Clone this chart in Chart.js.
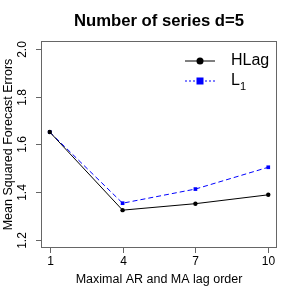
<!DOCTYPE html>
<html><head><meta charset="utf-8">
<script src="https://cdn.jsdelivr.net/npm/chart.js@4/dist/chart.umd.min.js"></script>
<style>html,body{margin:0;padding:0;background:#fff;}#wrap{width:299px;height:299px;}</style>
</head><body><div id="wrap"><canvas id="c" width="299" height="299"></canvas></div>
<script>
const lagOrders = [1, 4, 7, 10];
const hlagValues = [1.652, 1.326, 1.353, 1.390];
const l1Values = [1.652, 1.355, 1.414, 1.505];
const yTicks = [1.2, 1.4, 1.6, 1.8, 2.0];
const xTicks = [1, 4, 7, 10];
const titleText = "Number of series d=5";
const xTitle = "Maximal AR and MA lag order";
const yTitle = "Mean Squared Forecast Errors";
const seriesNames = ["HLag", "L"];

const FONT = '"Liberation Sans", Arial, sans-serif';

const decor = {
  id: 'decor',
  afterDatasetsDraw(chart) {
    const ctx = chart.ctx, a = chart.chartArea;
    const xs = chart.scales.x, ys = chart.scales.y;
    ctx.save();
    ctx.strokeStyle = '#666'; ctx.lineWidth = 1;
    ctx.strokeRect(a.left + 0.5, a.top + 0.5, a.right - a.left - 1, a.bottom - a.top - 1);
    ctx.fillStyle = '#000';
    ctx.font = '12px ' + FONT;
    yTicks.forEach(v => {
      const y = Math.round(ys.getPixelForValue(v)) + 0.5;
      ctx.beginPath(); ctx.moveTo(a.left - 5, y); ctx.lineTo(a.left, y); ctx.stroke();
      ctx.save(); ctx.translate(29, y); ctx.rotate(-Math.PI / 2);
      ctx.textAlign = 'center'; ctx.textBaseline = 'bottom';
      ctx.fillText(v.toFixed(1), 0, 0); ctx.restore();
    });
    xTicks.forEach(v => {
      const x = Math.round(xs.getPixelForValue(v)) + 0.5;
      ctx.beginPath(); ctx.moveTo(x, a.bottom); ctx.lineTo(x, a.bottom + 5); ctx.stroke();
      ctx.textAlign = 'center'; ctx.textBaseline = 'middle';
      ctx.fillText(String(v), x, 262);
    });
    ctx.font = '12.5px ' + FONT;
    ctx.textAlign = 'center'; ctx.textBaseline = 'middle';
    ctx.fillText(xTitle, (a.left + a.right) / 2, 280);
    ctx.save(); ctx.translate(9, (a.top + a.bottom) / 2); ctx.rotate(-Math.PI / 2);
    ctx.fillText(yTitle, 0, 0); ctx.restore();
    ctx.font = 'bold 16.7px ' + FONT;
    ctx.fillText(titleText, (a.left + a.right) / 2, 21);
    ctx.font = '16px ' + FONT;
    ctx.textAlign = 'left';
    ctx.strokeStyle = '#000'; ctx.lineWidth = 1; ctx.setLineDash([]);
    ctx.beginPath(); ctx.moveTo(185, 61); ctx.lineTo(215, 61); ctx.stroke();
    ctx.fillStyle = '#000';
    ctx.beginPath(); ctx.arc(200, 61, 3.5, 0, Math.PI * 2); ctx.fill();
    ctx.fillText(seriesNames[0], 231, 61);
    ctx.strokeStyle = '#0000ff'; ctx.setLineDash([2, 2]);
    ctx.beginPath(); ctx.moveTo(185, 81); ctx.lineTo(215, 81); ctx.stroke();
    ctx.setLineDash([]);
    ctx.fillStyle = '#0000ff';
    ctx.fillRect(196.5, 77.5, 7, 7);
    ctx.fillStyle = '#000';
    ctx.fillText(seriesNames[1], 231, 81);
    const lw = ctx.measureText(seriesNames[1]).width;
    ctx.font = '11px ' + FONT;
    ctx.fillText('1', 231 + lw, 87);
    ctx.restore();
  }
};

new Chart(document.getElementById('c'), {
  type: 'line',
  data: {
    datasets: [
      {
        label: 'HLag',
        data: lagOrders.map((x, i) => ({x, y: hlagValues[i]})),
        borderColor: '#000', backgroundColor: '#000', borderWidth: 1,
        pointStyle: 'circle', pointRadius: 2.2, pointBorderWidth: 0,
        tension: 0, fill: false
      },
      {
        label: 'L1',
        data: lagOrders.map((x, i) => ({x, y: l1Values[i]})),
        borderColor: '#0000ff', backgroundColor: '#0000ff', borderWidth: 1,
        borderDash: [5, 3],
        pointStyle: 'rect', pointRadius: 2.6, pointBorderWidth: 0,
        tension: 0, fill: false
      }
    ]
  },
  options: {
    responsive: false, animation: false,
    devicePixelRatio: 1,
    layout: { padding: { left: 41, top: 41, right: 22, bottom: 51 } },
    scales: {
      x: { type: 'linear', min: 0.64, max: 10.36, display: false },
      y: { type: 'linear', min: 1.168, max: 2.032, display: false }
    },
    plugins: { legend: { display: false }, title: { display: false }, tooltip: { enabled: false } }
  },
  plugins: [decor]
});
</script>
</body></html>
